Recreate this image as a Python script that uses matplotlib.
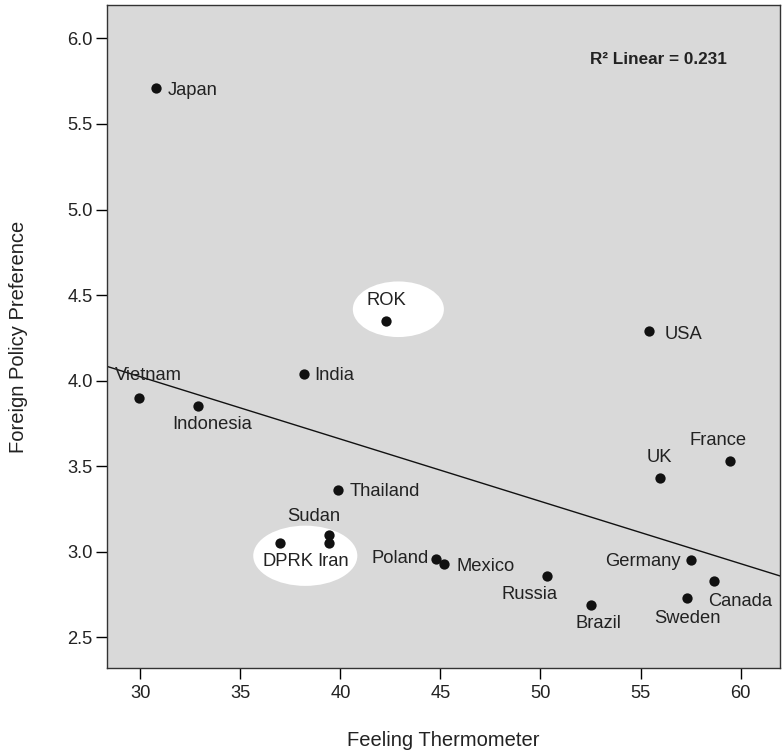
import numpy as np
import matplotlib
matplotlib.use("Agg")
import matplotlib.pyplot as plt
from matplotlib.patches import Ellipse

plt.rcParams['font.family'] = ['Liberation Sans', 'DejaVu Sans']

countries = ["Japan", "ROK", "USA", "India", "Vietnam", "Indonesia", "France", "UK",
             "Thailand", "Sudan", "Iran", "DPRK", "Poland", "Mexico", "Germany",
             "Russia", "Canada", "Sweden", "Brazil"]
thermometer = [30.8, 42.3, 55.4, 38.2, 29.95, 32.9, 59.45, 55.95,
               39.9, 39.45, 39.45, 37.0, 44.8, 45.2, 57.5,
               50.35, 58.65, 57.3, 52.5]
preference = [5.71, 4.35, 4.29, 4.04, 3.90, 3.85, 3.53, 3.43,
              3.36, 3.10, 3.05, 3.05, 2.96, 2.93, 2.95,
              2.86, 2.83, 2.73, 2.69]
# label offsets in pixels (dx, dy) and alignment
label_pos = {
    "Japan": (12, -2, "left", "center"),
    "ROK": (0, 12, "center", "bottom"),
    "USA": (16, -4, "left", "center"),
    "India": (10, -2, "left", "center"),
    "Vietnam": (9, 14, "center", "bottom"),
    "Indonesia": (14, -10, "center", "top"),
    "France": (-12, 12, "center", "bottom"),
    "UK": (0, 12, "center", "bottom"),
    "Thailand": (11, -1, "left", "center"),
    "Sudan": (-16, 10, "center", "bottom"),
    "Iran": (4, -10, "center", "top"),
    "DPRK": (8, -10, "center", "top"),
    "Poland": (-8, 0, "right", "center"),
    "Mexico": (12, -3, "left", "center"),
    "Germany": (-10, -1, "right", "center"),
    "Russia": (-18, -10, "center", "top"),
    "Canada": (27, -12, "center", "top"),
    "Sweden": (1, -12, "center", "top"),
    "Brazil": (8, -10, "center", "top"),
}
highlight_centers = [(42.9, 4.417), (38.25, 2.976)]
highlight_sizes = [(4.55, 0.325), (5.2, 0.352)]
r2_text = "R\u00b2 Linear = 0.231"

fig = plt.figure(figsize=(7.82, 7.51), dpi=100)
ax = fig.add_axes([0.137, 0.1105, 0.860, 0.883])
ax.set_facecolor("#d9d9d9")

for (cx, cy), (w, h) in zip(highlight_centers, highlight_sizes):
    ax.add_patch(Ellipse((cx, cy), w, h, facecolor="white", edgecolor="none", zorder=1))

x = np.array(thermometer)
y = np.array(preference)
slope, intercept = np.polyfit(x, y, 1)
xlim = (28.35, 61.95)
xs = np.array(xlim)
ax.plot(xs, intercept + slope * xs, color="#111111", lw=1.0, zorder=2)

ax.scatter(x, y, s=55, color="#111111", zorder=3, linewidths=0)

for name, xi, yi in zip(countries, thermometer, preference):
    dx, dy, ha, va = label_pos[name]
    ax.annotate(name, (xi, yi), xytext=(dx, dy), textcoords="offset pixels",
                ha=ha, va=va, fontsize=13.2, color="#222222", zorder=4)

ax.text(0.82, 0.918, r2_text, transform=ax.transAxes, ha="center", va="center",
        fontsize=12.3, fontweight="bold", color="#222222")

ax.set_xlim(*xlim)
ax.set_ylim(2.32, 6.196)
ax.set_xticks([30, 35, 40, 45, 50, 55, 60])
ax.set_yticks([2.5, 3.0, 3.5, 4.0, 4.5, 5.0, 5.5, 6.0])
ax.set_yticklabels([f"{v:.1f}" for v in [2.5, 3.0, 3.5, 4.0, 4.5, 5.0, 5.5, 6.0]])
ax.tick_params(direction="out", length=8, width=1, labelsize=13.2, labelcolor="#222222")
ax.tick_params(axis="y", pad=2.5)
ax.tick_params(axis="x", pad=4)
for s in ax.spines.values():
    s.set_color("#333333")
    s.set_linewidth(1.0)

ax.set_xlabel("Feeling Thermometer", fontsize=14.5, color="#222222", labelpad=21)
ax.set_ylabel("Foreign Policy Preference", fontsize=14.5, color="#222222", labelpad=28)

fig.savefig("out.png", dpi=100)
